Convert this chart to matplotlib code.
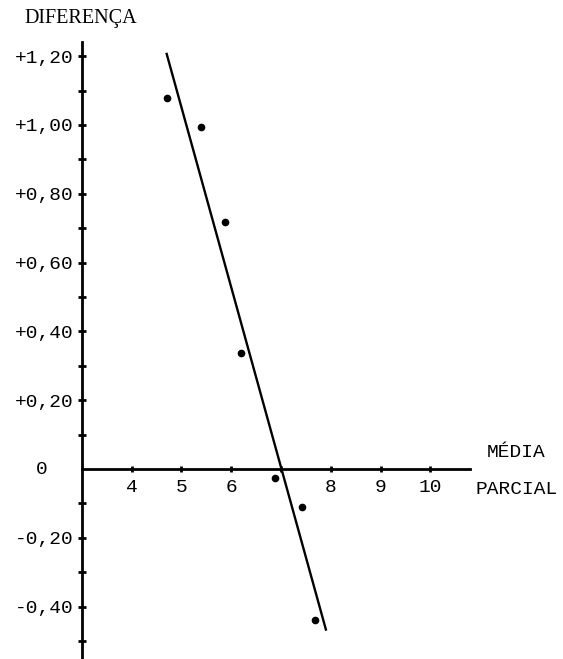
import matplotlib
matplotlib.use("Agg")
import matplotlib.pyplot as plt
import numpy as np

# values
media_parcial = [4.72, 5.40, 5.88, 6.19, 6.88, 7.43, 7.68]
diferenca = [1.078, 0.993, 0.719, 0.338, -0.027, -0.111, -0.439]

# fitted straight line (end points as drawn)
reta_x = [4.70, 7.91]
reta_y = [1.21, -0.47]

x_ticks = [4, 5, 6, 7, 8, 9, 10]
x_labels = ["4", "5", "6", "", "8", "9", "10"]
y_major = [-0.4, -0.2, 0.2, 0.4, 0.6, 0.8, 1.0, 1.2]
y_labels = ["-0,40", "-0,20", "+0,20", "+0,40", "+0,60", "+0,80", "+1,00", "+1,20"]
y_minor = [-0.5, -0.3, -0.1, 0.1, 0.3, 0.5, 0.7, 0.9, 1.1]

mono = "Liberation Mono"
serif = "Liberation Serif"

fig = plt.figure(figsize=(5.63, 6.59), dpi=100)
ax = fig.add_axes([0, 0, 1, 1])

# pixel layout of the original: x=3 at 81.7px, 49.8px per unit; y=0 at 469px, 344px per unit
ax.set_xlim(3 - 81.7 / 49.8, 3 + (563 - 81.7) / 49.8)
ax.set_ylim(-(659 - 469) / 344, 469 / 344)

for s in ["top", "right"]:
    ax.spines[s].set_visible(False)
ax.spines["left"].set_position(("data", 3))
ax.spines["bottom"].set_position(("data", 0))
ax.spines["left"].set_bounds(-0.56, 1.24)
ax.spines["bottom"].set_bounds(3, 10.79)
ax.spines["left"].set_linewidth(2.0)
ax.spines["bottom"].set_linewidth(2.0)

ax.set_xticks(x_ticks)
ax.set_xticklabels(x_labels, fontfamily=mono, fontsize=14)
ax.set_yticks(y_major)
ax.set_yticklabels(y_labels, fontfamily=mono, fontsize=14)
ax.set_yticks(y_minor, minor=True)
ax.tick_params(axis="x", direction="inout", length=5, width=2, pad=5)
ax.tick_params(axis="y", which="both", direction="inout", length=6, width=2, pad=3)

ax.text(2.197, 0, "0", fontfamily=mono, fontsize=14, ha="center", va="center")

ax.plot(reta_x, reta_y, color="black", lw=1.7, solid_capstyle="butt")
ax.plot(media_parcial, diferenca, "o", color="black", markersize=4.5)

ax.text(1.86, 1.31, "DIFERENÇA", fontfamily=serif, fontsize=14.5, ha="left", va="center")
ax.text(11.14, 0.049, "MÉDIA", fontfamily=mono, fontsize=14, ha="left", va="center")
ax.text(10.90, -0.061, "PARCIAL", fontfamily=mono, fontsize=14, ha="left", va="center")

fig.savefig("out.png", dpi=100)
